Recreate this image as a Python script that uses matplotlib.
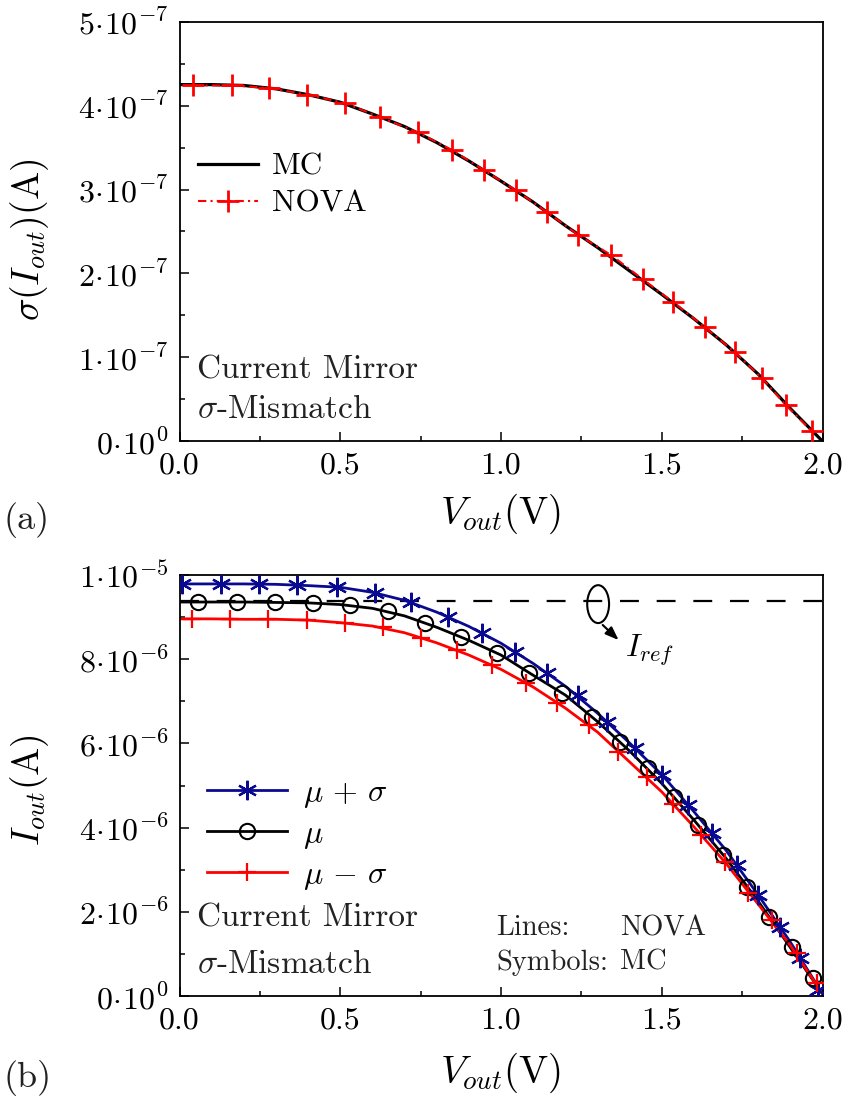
import numpy as np
import matplotlib
matplotlib.use('Agg')
import matplotlib.pyplot as plt
from matplotlib.lines import Line2D
from matplotlib.patches import Ellipse
from matplotlib.ticker import MultipleLocator

plt.rcParams['font.family'] = 'serif'
plt.rcParams['font.serif'] = ['cmr10']
plt.rcParams['mathtext.fontset'] = 'cm'
plt.rcParams['axes.formatter.use_mathtext'] = True

# ---- (a) sigma of output current ----
v_line = [0.0, 0.1, 0.2, 0.3, 0.4, 0.5, 0.6, 0.7, 0.8, 0.9, 1.0,
          1.1, 1.2, 1.3, 1.4, 1.5, 1.6, 1.7, 1.8, 1.9, 2.0]
sig_mc = [4.25, 4.25, 4.24, 4.20, 4.13, 4.04, 3.90, 3.75, 3.56, 3.34, 3.10,
          2.85, 2.57, 2.31, 2.03, 1.75, 1.46, 1.15, 0.80, 0.39, 0.0]   # x1e-7
v_nova = [0.042, 0.163, 0.278, 0.397, 0.515, 0.624, 0.742, 0.848, 0.947, 1.047,
          1.143, 1.240, 1.342, 1.441, 1.535, 1.634, 1.728, 1.812, 1.886, 1.967]
sig_nova = [4.24, 4.24, 4.21, 4.13, 4.03, 3.86, 3.68, 3.47, 3.23, 2.99,
            2.73, 2.46, 2.22, 1.93, 1.66, 1.36, 1.06, 0.75, 0.43, 0.12]  # x1e-7

# ---- (b) output current, lines = NOVA, symbols = MC ----
i_plus_line = [9.79, 9.79, 9.79, 9.78, 9.75, 9.71, 9.59, 9.40, 9.12, 8.78, 8.38,
               7.90, 7.36, 6.72, 6.01, 5.26, 4.38, 3.46, 2.40, 1.28, 0.05]
i_mean_line = [9.36, 9.36, 9.36, 9.35, 9.34, 9.30, 9.21, 9.03, 8.76, 8.45, 8.10,
               7.62, 7.15, 6.52, 5.82, 5.05, 4.18, 3.27, 2.25, 1.15, 0.05]
i_minus_line = [8.96, 8.96, 8.95, 8.95, 8.93, 8.87, 8.79, 8.63, 8.39, 8.10, 7.76,
                7.34, 6.84, 6.27, 5.56, 4.85, 4.02, 3.15, 2.18, 1.20, 0.05]   # x1e-6

v_plus_mc = [0.008, 0.129, 0.247, 0.365, 0.490, 0.608, 0.720, 0.835, 0.941, 1.044, 1.143,
             1.239, 1.330, 1.417, 1.501, 1.582, 1.656, 1.734, 1.799, 1.868, 1.930, 1.986]
i_plus_mc = [9.79, 9.79, 9.79, 9.76, 9.72, 9.57, 9.36, 9.00, 8.62, 8.17, 7.67,
             7.15, 6.51, 5.89, 5.25, 4.54, 3.87, 3.11, 2.40, 1.64, 0.90, 0.14]
v_mean_mc = [0.058, 0.179, 0.297, 0.415, 0.530, 0.649, 0.764, 0.876, 0.988, 1.087, 1.190,
             1.283, 1.370, 1.457, 1.538, 1.613, 1.691, 1.766, 1.834, 1.905, 1.971]
i_mean_mc = [9.36, 9.36, 9.36, 9.34, 9.29, 9.15, 8.86, 8.53, 8.15, 7.67, 7.20,
             6.63, 6.03, 5.42, 4.73, 4.06, 3.35, 2.59, 1.88, 1.16, 0.43]
v_minus_mc = [0.039, 0.157, 0.275, 0.397, 0.515, 0.633, 0.751, 0.863, 0.972, 1.078, 1.174,
              1.274, 1.364, 1.454, 1.535, 1.622, 1.697, 1.768, 1.843, 1.921, 1.983]
i_minus_mc = [8.96, 8.96, 8.96, 8.93, 8.86, 8.77, 8.50, 8.22, 7.86, 7.44, 6.96,
              6.44, 5.80, 5.20, 4.56, 3.82, 3.18, 2.45, 1.81, 1.02, 0.31]
i_ref = 9.38  # x1e-6

xticks = [0.0, 0.5, 1.0, 1.5, 2.0]
xticklabels = ['0.0', '0.5', '1.0', '1.5', '2.0']
yticks_a = [0, 1e-7, 2e-7, 3e-7, 4e-7, 5e-7]
yticklabels_a = [r'$0\!\cdot\!10^{0}$', r'$1\!\cdot\!10^{-7}$', r'$2\!\cdot\!10^{-7}$',
                 r'$3\!\cdot\!10^{-7}$', r'$4\!\cdot\!10^{-7}$', r'$5\!\cdot\!10^{-7}$']
yticks_b = [0, 2e-6, 4e-6, 6e-6, 8e-6, 1e-5]
yticklabels_b = [r'$0\!\cdot\!10^{0}$', r'$2\!\cdot\!10^{-6}$', r'$4\!\cdot\!10^{-6}$',
                 r'$6\!\cdot\!10^{-6}$', r'$8\!\cdot\!10^{-6}$', r'$1\!\cdot\!10^{-5}$']

blue = '#0a0a90'
red = '#ff0000'
txt = '#222222'

fig = plt.figure(figsize=(8.48, 11), dpi=100)
ax1 = fig.add_axes([0.2117, 0.5988, 0.7583, 0.3815])
ax2 = fig.add_axes([0.2117, 0.0945, 0.7583, 0.3827])

def style_axes(ax, yticks, ylabels, yminor):
    ax.set_xlim(0, 2)
    ax.set_xticks(xticks)
    ax.set_xticklabels(xticklabels)
    ax.set_yticks(yticks)
    ax.set_yticklabels(ylabels)
    ax.xaxis.set_minor_locator(MultipleLocator(0.25))
    ax.yaxis.set_minor_locator(MultipleLocator(yminor))
    ax.tick_params(which='both', direction='in', top=False, right=False,
                   labelsize=23, width=1.1)
    ax.tick_params(which='major', length=6.5, pad=8)
    ax.tick_params(which='minor', length=3.5)
    for s in ax.spines.values():
        s.set_linewidth(1.3)

# ---- panel (a) ----
v1 = np.array(v_line)
ax1.plot(v_nova, np.array(sig_nova) * 1e-7, color=red, ls=(0, (4, 2, 1, 2)), lw=1.5,
         marker='+', ms=16, mew=2, zorder=3)
ax1.plot(v1, np.array(sig_mc) * 1e-7, color='black', lw=2.3, zorder=2)
ax1.set_ylim(0, 5e-7)
style_axes(ax1, yticks_a, yticklabels_a, 0.5e-7)
ax1.set_xlabel(r'$V_{out}(\mathrm{V})$', fontsize=28)
ax1.set_ylabel(r'$\sigma(I_{out})(\mathrm{A})$', fontsize=27)
ax1.yaxis.set_label_coords(-0.2, 0.48)
ax1.xaxis.set_label_coords(0.5, -0.12)
h_a = [Line2D([], [], color='black', lw=2.3),
       Line2D([], [], color=red, ls=(0, (4, 2, 1, 2)), lw=1.5, marker='+', ms=16, mew=2)]
ax1.legend(h_a, ['MC', 'NOVA'], loc='upper left', bbox_to_anchor=(-0.005, 0.74),
           frameon=False, fontsize=22.5, handlelength=1.9, handletextpad=0.45,
           labelspacing=0.3, borderaxespad=0.3)
ax1.text(0.027, 0.17, 'Current Mirror', transform=ax1.transAxes,
         fontsize=24, va='center', color=txt)
ax1.text(0.027, 0.075, r'$\sigma$-Mismatch', transform=ax1.transAxes,
         fontsize=24, va='center', color=txt)

# ---- panel (b) ----
ax2.axhline(i_ref * 1e-6, color='black', lw=1.6, ls=(0, (8.5, 8)), zorder=1)
ax2.plot(v1, np.array(i_plus_line) * 1e-6, color=blue, lw=2.0, zorder=2)
ax2.plot(v1, np.array(i_mean_line) * 1e-6, color='black', lw=2.0, zorder=2)
ax2.plot(v1, np.array(i_minus_line) * 1e-6, color=red, lw=2.0, zorder=2)
ax2.plot(v_plus_mc, np.array(i_plus_mc) * 1e-6, ls='none', marker=(6, 2, 0),
         ms=14, mew=1.6, color=blue, zorder=3)
ax2.plot(v_mean_mc, np.array(i_mean_mc) * 1e-6, ls='none', marker='o',
         ms=11, mew=1.5, mfc='none', mec='black', zorder=3)
ax2.plot(v_minus_mc, np.array(i_minus_mc) * 1e-6, ls='none', marker='+',
         ms=13, mew=1.6, color=red, zorder=3)
ax2.set_ylim(0, 1e-5)
style_axes(ax2, yticks_b, yticklabels_b, 1e-6)
ax2.set_xlabel(r'$V_{out}(\mathrm{V})$', fontsize=28)
ax2.set_ylabel(r'$I_{out}(\mathrm{A})$', fontsize=27)
ax2.yaxis.set_label_coords(-0.2, 0.49)
ax2.xaxis.set_label_coords(0.5, -0.13)

ax2.add_patch(Ellipse((1.302, 9.31e-6), 0.068, 9.0e-7, fill=False,
                      ec='black', lw=1.5, zorder=4))
ax2.annotate('', xy=(1.372, 8.41e-6), xytext=(1.31, 8.86e-6),
             arrowprops=dict(arrowstyle='-|>,head_length=0.8,head_width=0.3',
                             color='black', lw=1.5))
ax2.text(1.385, 8.2e-6, r'$I_{ref}$', fontsize=23, va='center', ha='left')

h_b = [Line2D([], [], color=blue, lw=2.0, marker=(6, 2, 0), ms=14, mew=1.6),
       Line2D([], [], color='black', lw=2.0, marker='o', ms=11, mew=1.5, mfc='none'),
       Line2D([], [], color=red, lw=2.0, marker='+', ms=13, mew=1.6)]
ax2.legend(h_b, [r'$\mu\,+\,\sigma$', r'$\mu$', r'$\mu\,-\,\sigma$'], loc='upper left',
           bbox_to_anchor=(0.008, 0.57), frameon=False, fontsize=23,
           handlelength=2.5, handletextpad=0.5, labelspacing=0.3,
           borderaxespad=0.3)
ax2.text(0.027, 0.185, 'Current Mirror', transform=ax2.transAxes,
         fontsize=24, va='center', color=txt)
ax2.text(0.027, 0.074, r'$\sigma$-Mismatch', transform=ax2.transAxes,
         fontsize=24, va='center', color=txt)
ax2.text(0.492, 0.162, 'Lines:', transform=ax2.transAxes, fontsize=20.5,
         va='center', color=txt)
ax2.text(0.685, 0.162, 'NOVA', transform=ax2.transAxes, fontsize=20.5,
         va='center', color=txt)
ax2.text(0.492, 0.08, 'Symbols:', transform=ax2.transAxes, fontsize=20.5,
         va='center', color=txt)
ax2.text(0.685, 0.08, 'MC', transform=ax2.transAxes, fontsize=20.5,
         va='center', color=txt)

fig.text(0.004, 1 - 520 / 1100, '(a)', fontsize=26, va='center', color=txt)
fig.text(0.004, 1 - 1078 / 1100, '(b)', fontsize=26, va='center', color=txt)

fig.savefig('out.png', dpi=100)
